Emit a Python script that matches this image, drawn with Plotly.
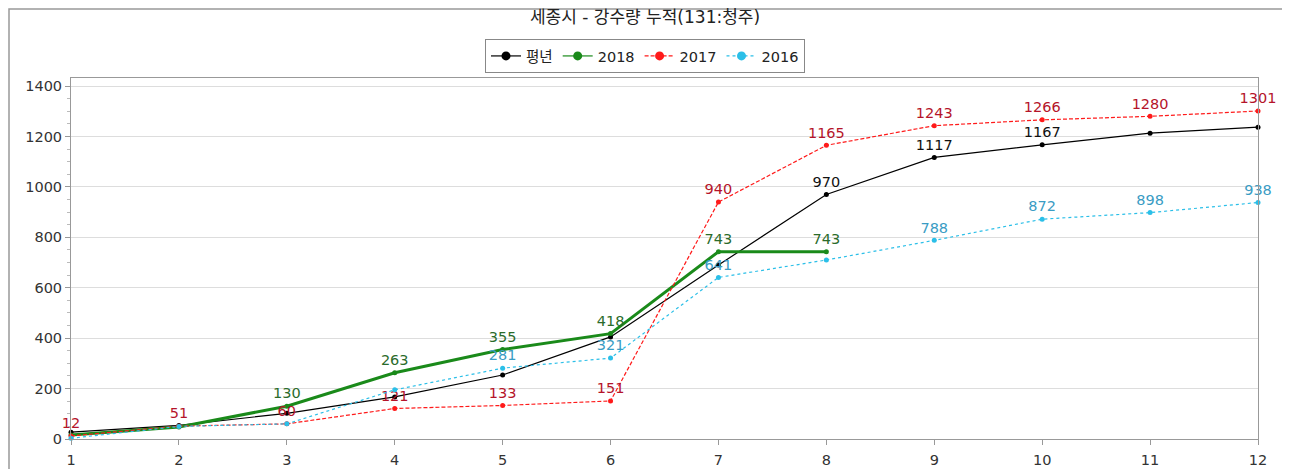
import plotly.graph_objects as go

# months on the x axis
months = [1, 2, 3, 4, 5, 6, 7, 8, 9, 10, 11, 12]

# cumulative rainfall (mm)
normal = [27, 54, 102, 167, 254, 405, 690, 970, 1117, 1167, 1213, 1237]
y2018 = [16, 48, 130, 263, 355, 418, 743, 743]
y2017 = [12, 51, 60, 121, 133, 151, 940, 1165, 1243, 1266, 1280, 1301]
y2016 = [3, 50, 60, 195, 281, 321, 641, 710, 788, 872, 898, 938]

# which points carry a value label
normal_lbl = [0, 0, 0, 0, 0, 0, 0, 1, 1, 1, 0, 0]
y2018_lbl = [0, 0, 1, 1, 1, 1, 1, 1]
y2017_lbl = [1] * 12
y2016_lbl = [0, 0, 0, 0, 1, 1, 1, 0, 1, 1, 1, 1]

FONT = "DejaVu Sans, Noto Sans CJK KR, sans-serif"


def labels(vals, flags):
    return [str(v) if f else "" for v, f in zip(vals, flags)]


fig = go.Figure()

series = [
    ("평년", normal, normal_lbl, "#000000", "solid", 1.2, "#111111"),
    ("2018", y2018, y2018_lbl, "#1a8a1a", "solid", 3, "#2b6b2b"),
    ("2017", y2017, y2017_lbl, "#ff1a1a", "4px,2px", 1.2, "#b5142a"),
    ("2016", y2016, y2016_lbl, "#2bbfe8", "dot", 1.2, "#3a9cc4"),
]

for name, vals, flags, color, dash, width, tcolor in series:
    fig.add_trace(go.Scatter(
        x=months[:len(vals)], y=vals, name=name, showlegend=False,
        mode="lines+markers+text",
        text=labels(vals, flags), textposition="top center",
        textfont=dict(family=FONT, size=14.5, color=tcolor),
        line=dict(color=color, dash=dash, width=width),
        marker=dict(color=color, size=5),
        cliponaxis=False,
    ))
    # legend entry with the larger legend marker
    fig.add_trace(go.Scatter(
        x=[None], y=[None], name=name, mode="lines+markers",
        line=dict(color=color, dash=dash, width=1.2),
        marker=dict(color=color, size=9),
    ))

# page body has an 8px margin, so the figure starts at (8, 8)
W, H = 1282, 461
# plot area in figure pixels: x 63..1250, y 70..431
pw, ph = 1187, 361

fig.update_layout(
    width=W, height=H,
    margin=dict(l=63, r=32, t=70, b=30, autoexpand=False),
    paper_bgcolor="white", plot_bgcolor="white",
    font=dict(family=FONT, size=14.5, color="#333333"),
    title=dict(text="세종시 - 강수량 누적(131:청주)", x=637 / W, xref="container",
               y=1 - 9 / H, yanchor="middle", font=dict(size=17, color="#222222")),
    showlegend=True,
    legend=dict(orientation="h", x=637 / W, xanchor="center", xref="container",
                y=1 - 31 / H, yanchor="top", yref="container",
                bordercolor="#888888", borderwidth=1, font=dict(size=14.5, color="#222222")),
    xaxis=dict(range=[1, 12], tickvals=months, showgrid=False, zeroline=False,
               showline=True, linecolor="#999999", mirror=True, automargin=False,
               ticks="outside", ticklen=5, tickcolor="#999999", ticklabelstandoff=3,
               tickfont=dict(size=14.5, color="#333333")),
    yaxis=dict(range=[0, 1432], tickvals=[0, 200, 400, 600, 800, 1000, 1200, 1400],
               gridcolor="#dddddd", zeroline=False, automargin=False,
               showline=True, linecolor="#999999", mirror=True,
               ticks="outside", ticklen=5, tickcolor="#999999",
               minor=dict(dtick=50, ticks="outside", ticklen=3, tickcolor="#bbbbbb"),
               tickfont=dict(size=14.5, color="#333333")),
    shapes=[dict(type="rect", xref="paper", yref="paper",
                 x0=(1 - 63) / pw, x1=(1279 - 63) / pw,
                 y0=(431 - 470) / ph, y1=(431 - 1) / ph,
                 line=dict(color="#999999", width=1.5))],
)

fig.write_html("out.html")
